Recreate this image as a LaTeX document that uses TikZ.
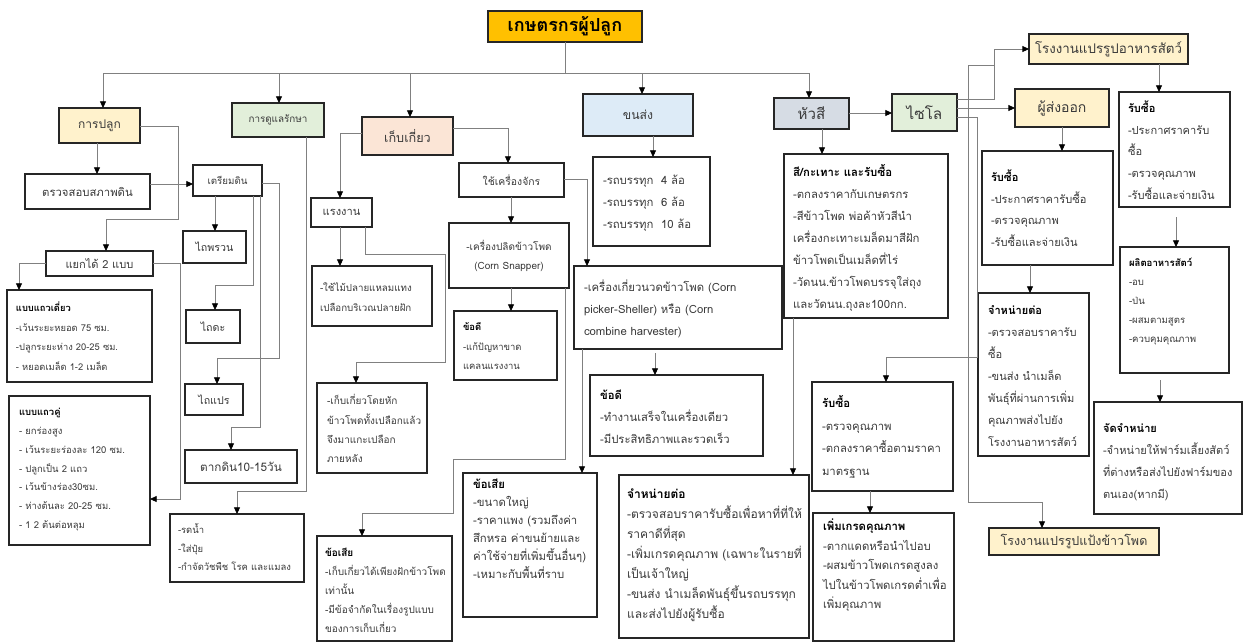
\documentclass[tikz,border=0pt]{standalone}
\usepackage{fontspec}
\setmainfont{Loma}[Script=Thai]
\usetikzlibrary{arrows.meta,calc}
\definecolor{cgold}{HTML}{FFC000}
\definecolor{cyel}{HTML}{FFF2CC}
\definecolor{cgreen}{HTML}{E2EFDA}
\definecolor{cpeach}{HTML}{FBE5D6}
\definecolor{cblue}{HTML}{DDEBF7}
\definecolor{cgrayblue}{HTML}{D6DCE4}
\definecolor{ctext}{HTML}{3A3A3A}
\newcommand\mkbox[7]{%
  \pgfmathsetmacro\mkw{(#4-#2)*0.75}%
  \pgfmathsetmacro\mkh{(#5-#3)*0.75}%
  \node[#6, anchor=north west, minimum width=\mkw pt, minimum height=\mkh pt] (#1) at (#2,#3) {#7};}
\newcommand\mktext[6]{%
  \pgfmathsetmacro\mkls{#5*0.75}%
  \node[anchor=north west, inner sep=0pt, outer sep=0pt, text=ctext, font=\fontsize{#4}{\mkls pt}\selectfont] (#1) at (#2,{#3-#5/2}) {\begin{tabular}{@{}l@{}}#6\end{tabular}};}
\newcommand\mytitle[1]{{\bfseries\color{black}#1}}
\begin{document}
\begin{tikzpicture}[x=0.75pt,y=-0.75pt,
  hdr/.style={draw=black!85, line width=1pt, inner sep=1pt, outer sep=0pt, text=ctext},
  box/.style={draw=black!85, line width=0.9pt, inner sep=1pt, outer sep=0pt, text=ctext},
  lbox/.style={draw=black!85, line width=0.9pt, inner sep=0pt, outer sep=0pt},
  ln/.style={draw=black!50, line width=0.6pt},
  arr/.style={ln, -{Triangle[length=5pt,width=4.5pt,color=black]}}]
\useasboundingbox (0,0) rectangle (1244,643);
% header boxes
\mkbox{farmer}{488}{11}{642}{42}{hdr,fill=cgold,text=black,font=\fontsize{13.5}{15}\selectfont\bfseries}{เกษตรกรผู้ปลูก}
\mkbox{plant}{59}{108}{140}{143}{hdr,fill=cyel,font=\fontsize{9}{11}\selectfont}{การปลูก}
\mkbox{care}{232}{103}{324}{137}{hdr,fill=cgreen,font=\fontsize{7.4}{9}\selectfont}{การดูแลรักษา}
\mkbox{harvest}{362}{117}{453}{155}{hdr,fill=cpeach,font=\fontsize{9.5}{11}\selectfont}{เก็บเกี่ยว}
\mkbox{transport}{583}{94}{693}{136}{hdr,fill=cblue,font=\fontsize{9.2}{11}\selectfont}{ขนส่ง}
\mkbox{huasi}{774}{98}{849}{129}{hdr,fill=cgrayblue,font=\fontsize{11.3}{13}\selectfont}{หัวสี}
\mkbox{silo}{892}{94}{957}{131}{hdr,fill=cgreen,font=\fontsize{11.5}{13}\selectfont}{ไซโล}
\mkbox{feedfac}{1029}{34}{1188}{64}{hdr,fill=cyel,font=\fontsize{10}{12}\selectfont}{โรงงานแปรรูปอาหารสัตว์}
\mkbox{exporter}{1015}{89}{1109}{127}{hdr,fill=cyel,font=\fontsize{10.5}{12}\selectfont}{ผู้ส่งออก}
\mkbox{starchfac}{989}{528}{1159}{555}{hdr,fill=cyel,font=\fontsize{9.4}{11}\selectfont}{โรงงานแปรรูปแป้งข้าวโพด}
% simple boxes
\mkbox{soil}{25}{174}{150}{209}{box,font=\fontsize{8.5}{10}\selectfont}{ตรวจสอบสภาพดิน}
\mkbox{split}{46}{251}{153}{276}{box,font=\fontsize{8.3}{10}\selectfont}{แยกได้ 2 แบบ}
\mkbox{prep}{193}{165}{262}{196}{box,font=\fontsize{7.3}{9}\selectfont}{เตรียมดิน}
\mkbox{plowa}{183}{231}{246}{263}{box,font=\fontsize{8}{10}\selectfont}{ไถพรวน}
\mkbox{plowb}{186}{310}{240}{343}{box,font=\fontsize{8}{10}\selectfont}{ไถดะ}
\mkbox{plowc}{185}{384}{243}{415}{box,font=\fontsize{8}{10}\selectfont}{ไถแปร}
\mkbox{dry}{185}{450}{297}{483}{box,line width=1.6pt,font=\fontsize{8.8}{11}\selectfont}{ตากดิน10-15วัน}
\mkbox{labor}{311}{198}{372}{227}{box,font=\fontsize{8.3}{10}\selectfont}{แรงงาน}
\mkbox{machine}{459}{163}{564}{197}{box,font=\fontsize{7.8}{9}\selectfont}{ใช้เครื่องจักร}
\mkbox{snapper}{449}{223}{569}{288}{box,align=center,font=\fontsize{7.5}{14.3}\selectfont}{-เครื่องปลิดข้าวโพด\\(Corn Snapper)}
% list boxes
\mkbox{single}{7}{290}{152}{382}{lbox}{}
\mkbox{double}{9}{396}{150}{545}{lbox}{}
\mkbox{carelist}{170}{514}{304}{582}{lbox}{}
\mkbox{poke}{312}{266}{432}{326}{lbox}{}
\mkbox{breakoff}{317}{383}{427}{473}{lbox}{}
\mkbox{dis1}{317}{536}{452}{641}{lbox}{}
\mkbox{adv1}{454}{311}{557}{380}{lbox}{}
\mkbox{picker}{574}{266}{782}{349}{lbox}{}
\mkbox{adv2}{590}{375}{763}{456}{lbox}{}
\mkbox{dis2}{463}{473}{597}{617}{lbox}{}
\mkbox{trucks}{593}{157}{710}{246}{lbox}{}
\mkbox{husk}{784}{154}{948}{318}{lbox}{}
\mkbox{sell1}{619}{475}{809}{638}{lbox}{}
\mkbox{buy1}{812}{382}{953}{491}{lbox}{}
\mkbox{grade}{813}{513}{954}{641}{lbox}{}
\mkbox{buy2}{982}{151}{1113}{265}{lbox}{}
\mkbox{sell2}{978}{293}{1089}{456}{lbox}{}
\mkbox{buy3}{1119}{92}{1230}{207}{lbox}{}
\mkbox{produce}{1120}{247}{1229}{373}{lbox}{}
\mkbox{distrib}{1094}{402}{1242}{514}{lbox}{}
% list texts
\mktext{singleT}{16}{308}{7}{19.5}{\mytitle{แบบแถวเดี่ยว}\\-เว้นระยะหยอด 75 ซม.\\-ปลูกระยะห่าง 20-25 ซม.\\- หยอดเมล็ด 1-2 เมล็ด}
\mktext{doubleT}{19}{412}{7.1}{18.8}{\mytitle{แบบแถวคู่}\\- ยกร่องสูง\\- เว้นระยะร่องละ 120 ซม.\\- ปลูกเป็น 2 แถว\\- เว้นข้างร่อง30ซม.\\- ห่างต้นละ 20-25 ซม.\\- 1 2 ต้นต่อหลุม}
\mktext{carelistT}{178}{530}{7.1}{18.5}{-รดน้ำ\\-ใส่ปุ๋ย\\-กำจัดวัชพืช โรค และแมลง}
\mktext{pokeT}{320}{288}{7.3}{19.5}{-ใช้ไม้ปลายแหลมแทง\\เปลือกบริเวณปลายฝัก}
\mktext{breakoffT}{327}{401}{7.5}{19.3}{-เก็บเกี่ยวโดยหัก\\ข้าวโพดทั้งเปลือกแล้ว\\จึงมาแกะเปลือก\\ภายหลัง}
\mktext{dis1T}{325}{553}{7.5}{19}{\mytitle{ข้อเสีย}\\-เก็บเกี่ยวได้เพียงฝักข้าวโพด\\เท่านั้น\\-มีข้อจำกัดในเรื่องรูปแบบ\\ของการเก็บเกี่ยว}
\mktext{adv1T}{463}{327}{7.1}{19.5}{\mytitle{ข้อดี}\\-แก้ปัญหาขาด\\แคลนแรงงาน}
\mktext{pickerT}{584}{287}{8.5}{22}{-เครื่องเกี่ยวนวดข้าวโพด (Corn\\picker-Sheller) หรือ (Corn\\combine harvester)}
\mktext{adv2T}{600}{395}{8.5}{22}{\mytitle{ข้อดี}\\-ทำงานเสร็จในเครื่องเดียว\\-มีประสิทธิภาพและรวดเร็ว}
\mktext{dis2T}{473}{485}{8.5}{18}{\mytitle{ข้อเสีย}\\-ขนาดใหญ่\\-ราคาแพง (รวมถึงค่า\\สึกหรอ ค่าขนย้ายและ\\ค่าใช้จ่ายที่เพิ่มขึ้นอื่นๆ)\\-เหมาะกับพื้นที่ราบ}
\mktext{trucksT}{603}{180}{8.5}{22}{-รถบรรทุก\ \ 4 ล้อ\\-รถบรรทุก\ \ 6 ล้อ\\-รถบรรทุก\ \ 10 ล้อ}
\mktext{huskT}{793}{172}{8.5}{22}{\mytitle{สี/กะเทาะ และรับซื้อ}\\-ตกลงราคากับเกษตรกร\\-สีข้าวโพด พ่อค้าหัวสีนำ\\เครื่องกะเทาะเมล็ดมาสีฝัก\\ข้าวโพดเป็นเมล็ดที่ไร่\\-วัดนน.ข้าวโพดบรรจุใส่ถุง\\และวัดนน.ถุงละ100กก.}
\mktext{sell1T}{627}{494}{9}{20}{\mytitle{จำหน่ายต่อ}\\-ตรวจสอบราคารับซื้อเพื่อหาที่ที่ให้\\ราคาดีที่สุด\\-เพิ่มเกรดคุณภาพ (เฉพาะในรายที่\\เป็นเจ้าใหญ่\\-ขนส่ง นำเมล็ดพันธุ์ขึ้นรถบรรทุก\\และส่งไปยังผู้รับซื้อ}
\mktext{buy1T}{822}{403}{8.5}{22.5}{\mytitle{รับซื้อ}\\-ตรวจคุณภาพ\\-ตกลงราคาซื้อตามราคา\\มาตรฐาน}
\mktext{gradeT}{823}{527}{8.5}{19.5}{\mytitle{เพิ่มเกรดคุณภาพ}\\-ตากแดดหรือนำไปอบ\\-ผสมข้าวโพดเกรดสูงลง\\ไปในข้าวโพดเกรดต่ำเพื่อ\\เพิ่มคุณภาพ}
\mktext{buy2T}{991}{177}{8.3}{21.7}{\mytitle{รับซื้อ}\\-ประกาศราคารับซื้อ\\-ตรวจคุณภาพ\\-รับซื้อและจ่ายเงิน}
\mktext{sell2T}{988}{310}{8.3}{22}{\mytitle{จำหน่ายต่อ}\\-ตรวจสอบราคารับ\\ซื้อ\\-ขนส่ง นำเมล็ด\\พันธุ์ที่ผ่านการเพิ่ม\\คุณภาพส่งไปยัง\\โรงงานอาหารสัตว์}
\mktext{buy3T}{1128}{108}{8.3}{21.7}{\mytitle{รับซื้อ}\\-ประกาศราคารับ\\ซื้อ\\-ตรวจคุณภาพ\\-รับซื้อและจ่ายเงิน}
\mktext{produceT}{1129}{263}{7.2}{19}{\mytitle{ผลิตอาหารสัตว์}\\-อบ\\-ป่น\\-ผสมตามสูตร\\-ควบคุมคุณภาพ}
\mktext{distribT}{1103}{428}{8.3}{22}{\mytitle{จัดจำหน่าย}\\-จำหน่ายให้ฟาร์มเลี้ยงสัตว์\\ที่ต่างหรือส่งไปยังฟาร์มของ\\ตนเอง(หากมี)}
% connectors
\coordinate (busL) at (103,73);
\coordinate (busC) at (279,73);
\coordinate (busH) at (410,73);
\coordinate (busT) at (642,73);
\coordinate (busR) at (809,73);
\draw[ln] (farmer.south) -- (farmer.south |- busL);
\draw[ln] (busL) -- (busR);
\draw[arr] (busL) -- (busL |- plant.north);
\draw[arr] (busC) -- (busC |- care.north);
\draw[arr] (busH) -- (busH |- harvest.north);
\draw[arr] (busT) -- (busT |- transport.north);
\draw[arr] (busR) -- (busR |- huasi.north);
\draw[arr] (plant.south -| 97,0) -- (soil.north -| 97,0);
\draw[arr] (soil.east |- 0,184) -- (prep.west |- 0,184);
\draw[arr] (plant.east |- 0,126) -| (178,219) -| (split.north -| 106,0);
\draw[arr] (split.west |- 0,263) -| (single.north -| 19,0);
\draw[arr] (split.east |- 0,263) -| (180,499) -- (double.east |- 0,499);
\draw[arr] (prep.south -| 215,0) -- (plowa.north -| 215,0);
\draw[arr] (prep.south -| 253,0) |- (215,285) -- (plowb.north -| 215,0);
\draw[arr] (prep.east |- 0,183) -| (279,358) -| (plowc.north -| 217,0);
\draw[arr] (prep.south -| 260,0) |- (231,427) -- (dry.north -| 231,0);
\draw[arr] (care.south -| 306,0) |- (237,491) -- (carelist.north -| 237,0);
\draw[arr] (harvest.west |- 0,133) -| (labor.north -| 340,0);
\draw[arr] (labor.south -| 340,0) -- (poke.north -| 340,0);
\draw[arr] (labor.south -| 365,0) |- (445,254) |- (356,362) -- (breakoff.north -| 356,0);
\draw[arr] (harvest.east |- 0,128) -| (machine.north -| 508,0);
\draw[arr] (machine.south -| 511,0) -- (snapper.north -| 511,0);
\draw[arr] (snapper.south -| 511,0) -- (adv1.north -| 511,0);
\draw[arr] (machine.east |- 0,179) -| (picker.north -| 587,0);
\draw[arr] ($(picker.south -| 655,0)+(0,4)$) -- (adv2.north -| 655,0);
\draw[arr] (picker.south -| 582,0) -- (dis2.north -| 582,0);
\draw[arr] (snapper.south -| 565,0) |- (453,459) |- (362,513) -- (dis1.north -| 362,0);
\draw[arr] (transport.south -| 653,0) -- (trucks.north -| 653,0);
\draw[arr] (huasi.east |- 0,113) -- (silo.west |- 0,113);
\draw[arr] (huasi.south -| 822,0) -- (husk.north -| 822,0);
\draw[arr] (husk.south -| 793,0) -- (sell1.north -| 793,0);
\draw[arr] (silo.east |- 0,99) -| (994,49) -- (feedfac.west |- 0,49);
\draw[arr] (silo.east |- 0,108) -- (exporter.west |- 0,108);
\draw[arr] (silo.east |- 0,117) -| (977,357) -| (buy1.north -| 886,0);
\draw[arr] (994,65) -| (968,502) -| (starchfac.north -| 1042,0);
\draw[arr] (exporter.south -| 1062,0) -- (buy2.north -| 1062,0);
\draw[arr] (buy2.south -| 1030,0) -- (sell2.north -| 1030,0);
\draw[arr] (feedfac.south -| 1159,0) -- (buy3.north -| 1159,0);
\draw[arr] ($(buy3.south -| 1176,0)+(0,10)$) -- (produce.north -| 1176,0);
\draw[arr] ($(produce.south -| 1160,0)+(0,7)$) -- (distrib.north -| 1160,0);
\draw[arr] (buy1.south -| 870,0) -- (grade.north -| 870,0);
\end{tikzpicture}
\end{document}
